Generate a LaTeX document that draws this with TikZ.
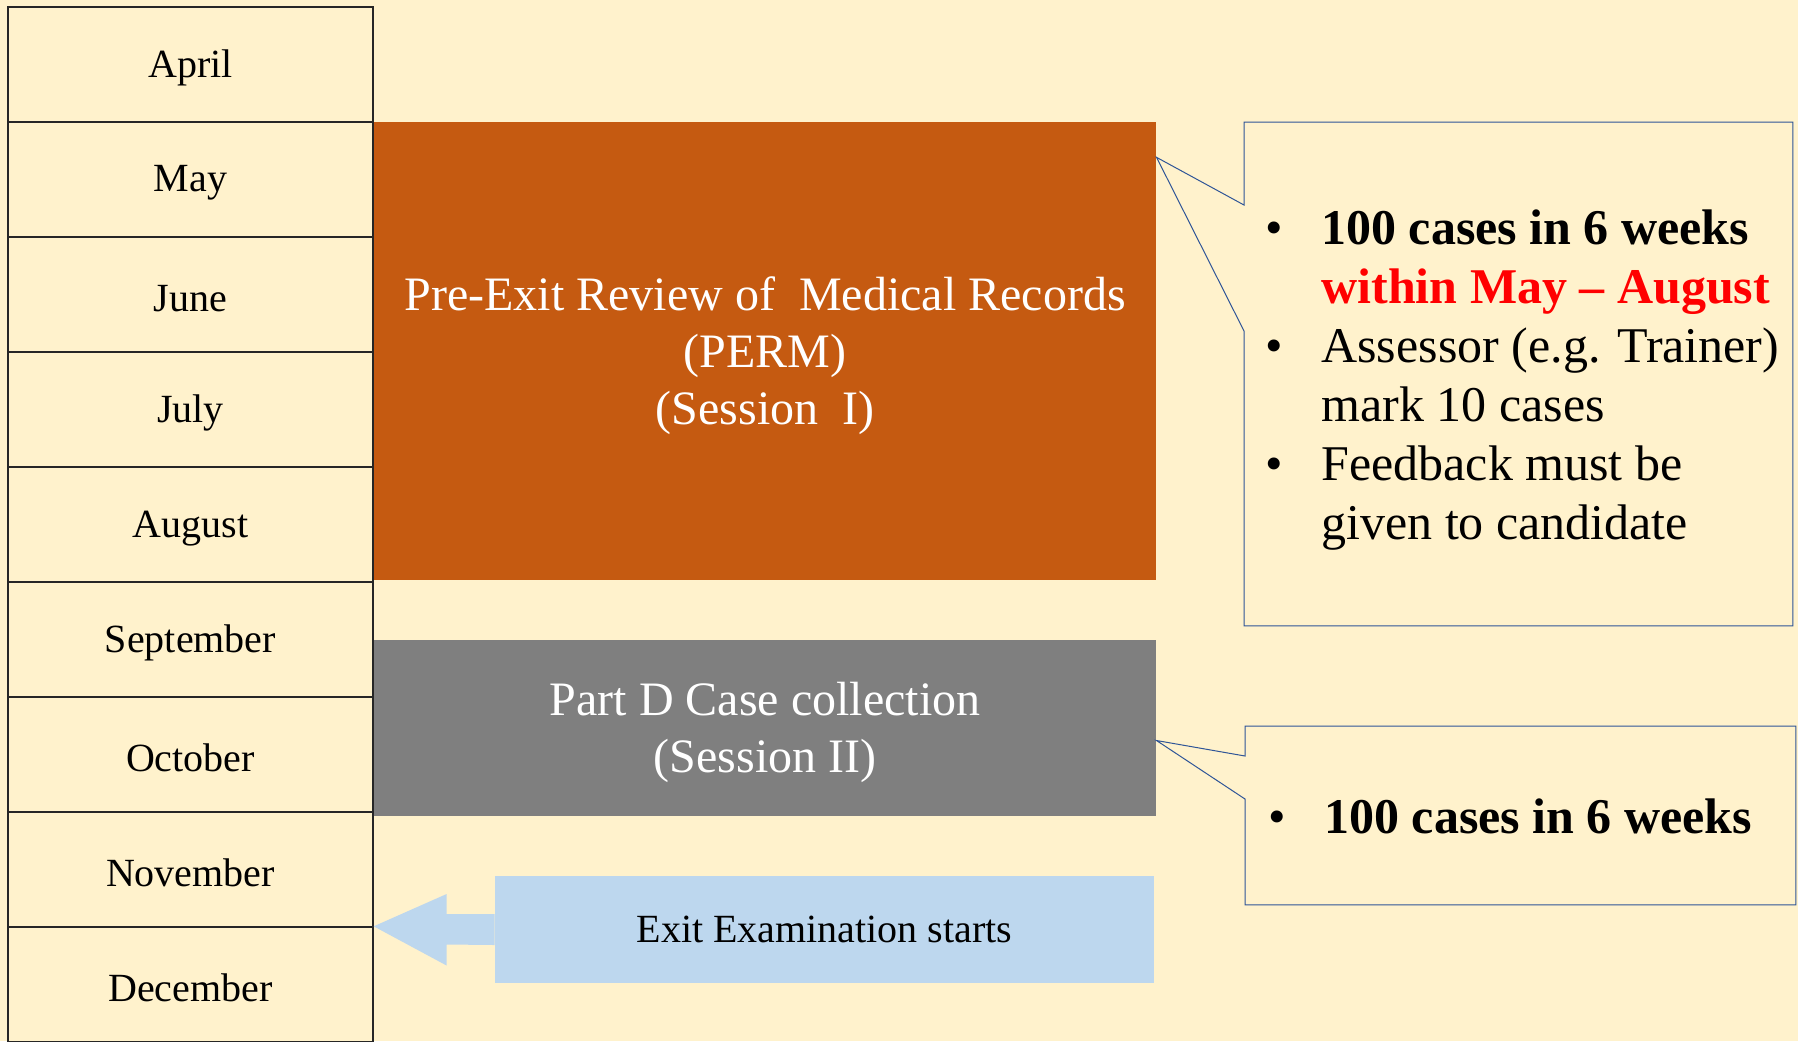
\documentclass[tikz,border=0pt]{standalone}
\usepackage{fontspec}
\setmainfont{Liberation Serif}
\usetikzlibrary{calc}
\definecolor{cream}{HTML}{FFF2CC}
\definecolor{permorange}{HTML}{C55A11}
\definecolor{partgray}{HTML}{7F7F7F}
\definecolor{exitblue}{HTML}{BDD7EE}
\definecolor{noteblue}{HTML}{2F5597}
\tikzset{
  monthcell/.style={draw=black!85, line width=0.7pt, minimum width=182.5pt, minimum height=57.5pt,
    inner sep=0pt, font=\fontsize{20}{24}\selectfont},
  phasebox/.style={fill=#1, inner sep=0pt},
  phasetext/.style={text=white, inner sep=0pt, align=center, font=\fontsize{24}{28.5}\selectfont},
  notebox/.style={draw=noteblue, line width=0.5pt, fill=cream},
  notetext/.style={inner sep=0pt, align=left, font=\fontsize{25}{29.5}\selectfont},
}
\newcommand{\notebullet}{\llap{\textbullet\hspace{19pt}}}

\begin{document}
\begin{tikzpicture}[x=0.5pt,y=-0.5pt]
  % page background
  \fill[cream] (0,0) rectangle (1798,1041);
  \useasboundingbox (0,0) rectangle (1798,1041);
  \clip (0,0) rectangle (1798,1041);

  % month column
  \foreach \m [count=\i from 0] in {April,May,June,July,August,September,October,November,December}
    \node[monthcell] (m\i) at (190.5,{64.5+115*\i}) {\raisebox{-1.8pt}[\height][\depth]{\m}};

  % the two sessions
  \node[phasebox=permorange, minimum width=391pt, minimum height=229pt, anchor=north west] (perm) at (m1.north east) {};
  \node[phasetext] (permtext) at ([yshift=-2.5pt]perm.center)
    {Pre-Exit Review of\ \ Medical Records\\(PERM)\\(Session\ \ I)};
  \node[phasebox=partgray, minimum width=391pt, minimum height=88pt, anchor=north west] (partd) at (m5.east) {};
  \node[phasetext] (partdtext) at ([yshift=-2.5pt]partd.center)
    {Part D Case collection\\(Session II)};

  % exit examination, arrow pointing at end of November
  \node[fill=exitblue, minimum width=329.5pt, minimum height=53.5pt, inner sep=0pt,
    font=\fontsize{20}{24}\selectfont] (exit) at (824.5,929.5) {Exit Examination starts};
  \fill[exitblue] ([yshift=7.75pt]exit.west) -- ++(-48,0) -- ++(0,-20) -- (m8.north east)
    -- ($(exit.west)+(-48,36)$) -- ++(0,-21) -- ([yshift=-7.75pt]exit.west) -- cycle;

  % callout for session I
  \node[minimum width=274pt, minimum height=251.5pt, inner sep=0pt, anchor=north west] (note1) at (1244,122) {};
  \draw[notebox] (note1.north west) -- (note1.north east) -- (note1.south east) -- (note1.south west)
    -- ($(note1.north west)+(0,209)$) -- ([yshift=-18pt]perm.north east) -- ($(note1.north west)+(0,83)$) -- cycle;
  \node[notetext, anchor=west] (list1) at (1321,380)
    {\notebullet\textbf{100 cases in 6 weeks}\\
     \textcolor{red}{\textbf{within May – August}}\\
     \notebullet Assessor (e.g. Trainer)\\
     mark 10 cases\\
     \notebullet Feedback must be\\
     given to candidate};

  % callout for session II
  \node[minimum width=275pt, minimum height=89pt, inner sep=0pt, anchor=north west] (note2) at (1245,726) {};
  \draw[notebox] (note2.north west) -- (note2.north east) -- (note2.south east) -- (note2.south west)
    -- ($(note2.north west)+(0,73)$) -- ([yshift=-50.5pt]partd.north east) -- ($(note2.north west)+(0,30)$) -- cycle;
  \node[notetext, anchor=west] (list2) at (1324,816) {\notebullet\textbf{100 cases in 6 weeks}};
\end{tikzpicture}
\end{document}
